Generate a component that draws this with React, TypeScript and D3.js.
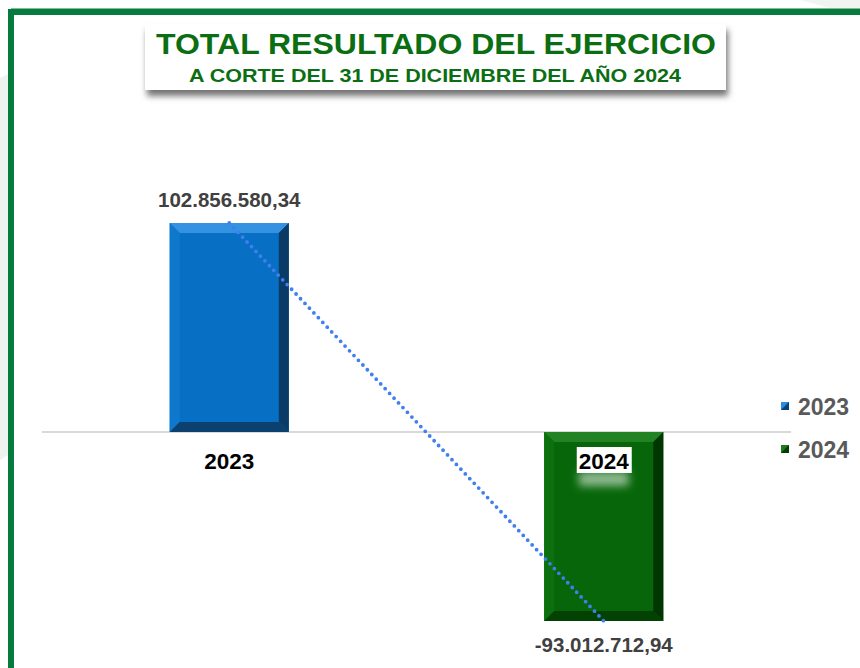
import React from 'react';
import * as d3 from 'd3';

// chart data
const categories = ['2023', '2024'];
const values = [102856580.34, -93012712.94];
const valueLabels = ['102.856.580,34', '-93.012.712,94'];
const legendLabels = ['2023', '2024'];
const title = 'TOTAL RESULTADO DEL EJERCICIO';
const subtitle = 'A CORTE DEL 31 DE DICIEMBRE DEL AÑO 2024';

// bevel colours per series: face, top, left, right, bottom
const palettes = [
  { face: '#0870c4', top: '#3592e2', left: '#0d78cc', right: '#0a3a66', bottom: '#0c416f' },
  { face: '#07660a', top: '#238223', left: '#0b700d', right: '#013501', bottom: '#034203' },
];

const width = 860;
const height = 668;

const App = () => {
  // scales
  const x = d3.scaleBand<string>()
    .domain(categories)
    .range([42, 791])
    .paddingInner(0.682)
    .paddingOuter(0.341);

  const y = d3.scaleLinear()
    .domain([0, values[0]])
    .range([432, 223]);

  const bw = x.bandwidth();
  const bevel = 10;

  const trend = d3.line<number>()
    .x((_, i) => (x(categories[i]) as number) + bw / 2)
    .y((d) => y(d));

  const font = '"Liberation Sans", Arial, sans-serif';

  return (
    <svg width={width} height={height} style={{ position: 'absolute', left: 0, top: 0 }}
      fontFamily={font}>
      <defs>
        <filter id="boxShadow" x="-10%" y="-30%" width="120%" height="180%">
          <feDropShadow dx="2" dy="6" stdDeviation="3" floodColor="#000" floodOpacity="0.55" />
        </filter>
        <filter id="glow" x="-50%" y="-100%" width="200%" height="300%">
          <feGaussianBlur stdDeviation="4" />
        </filter>
      </defs>

      <rect width={width} height={height} fill="#fff" />
      {/* faint background shapes outside frame */}
      <path d="M0,78 L8,74 L8,455 L0,460 Z" fill="#eef3ee" />
      <path d="M800,0 L860,0 L860,8 L830,8 Z" fill="#f1f5f1" />

      {/* green frame */}
      <rect x={11} y={12} width={900} height={700} fill="none" stroke="#077a3e" strokeWidth={6} />
      <line x1={11} y1={8.5} x2={860} y2={8.5} stroke="#7cbf98" strokeWidth={1} />

      {/* title box */}
      <rect x={145} y={24} width={581} height={66} fill="#fff" filter="url(#boxShadow)" />
      <text x={436} y={54} textAnchor="middle" fontSize={29} fontWeight="bold" fill="#0b6e12"
        textLength={560} lengthAdjust="spacingAndGlyphs">{title}</text>
      <text x={435} y={82} textAnchor="middle" fontSize={19} fontWeight="bold" fill="#0b6e12"
        textLength={492} lengthAdjust="spacingAndGlyphs">{subtitle}</text>

      {/* zero line */}
      <line x1={42} x2={791} y1={y(0)} y2={y(0)} stroke="#d9d9d9" strokeWidth={2} />

      {/* bars with bevel */}
      {values.map((v, i) => {
        const p = palettes[i];
        const x0 = x(categories[i]) as number;
        const x1 = x0 + bw;
        const y0 = Math.min(y(v), y(0));
        const y1 = Math.max(y(v), y(0));
        const b = bevel;
        const pts = (a: number[][]) => a.map((q) => q.join(',')).join(' ');
        return (
          <g key={categories[i]}>
            <rect x={x0} y={y0} width={bw} height={y1 - y0} fill={p.face} />
            <polygon points={pts([[x0, y0], [x1, y0], [x1 - b, y0 + b], [x0 + b, y0 + b]])} fill={p.top} />
            <polygon points={pts([[x0, y0], [x0 + b, y0 + b], [x0 + b, y1 - b], [x0, y1]])} fill={p.left} />
            <polygon points={pts([[x1, y0], [x1, y1], [x1 - b, y1 - b], [x1 - b, y0 + b]])} fill={p.right} />
            <polygon points={pts([[x0, y1], [x1, y1], [x1 - b, y1 - b], [x0 + b, y1 - b]])} fill={p.bottom} />
          </g>
        );
      })}

      {/* trend line */}
      <path d={trend(values) as string} fill="none" stroke="#3f7ff0" strokeWidth={3.8}
        strokeDasharray="0 6.5" strokeLinecap="round" />

      {/* value labels */}
      {values.map((v, i) => {
        const cx = (x(categories[i]) as number) + bw / 2;
        const ty = v >= 0 ? y(v) - 16 : y(v) + 31;
        return (
          <text key={'v' + i} x={cx} y={ty} textAnchor="middle" fontSize={20.5} fontWeight="bold"
            fill="#404040">{valueLabels[i]}</text>
        );
      })}

      {/* category labels */}
      {categories.map((c, i) => {
        const cx = (x(c) as number) + bw / 2;
        const onBar = values[i] < 0;
        return (
          <g key={'c' + c}>
            {onBar && (
              <>
                <rect x={cx - 25} y={472} width={50} height={14} fill="#fff" opacity={0.55} filter="url(#glow)" />
                <rect x={cx - 27} y={447} width={55} height={26} fill="#fff" />
              </>
            )}
            <text x={cx} y={468.5} textAnchor="middle" fontSize={22.5} fontWeight="bold" fill="#000">{c}</text>
          </g>
        );
      })}

      {/* legend */}
      {legendLabels.map((l, i) => {
        const p = palettes[i];
        const ly = 402 + i * 43;
        return (
          <g key={'l' + l}>
            <rect x={781} y={ly} width={8} height={8} fill={p.face} />
            <polygon points={`781,${ly} 789,${ly} 781,${ly + 8}`} fill={p.top} opacity={0.8} />
            <polygon points={`789,${ly} 789,${ly + 8} 781,${ly + 8}`} fill={p.right} opacity={0.8} />
            <text x={798} y={ly + 13} fontSize={23} fontWeight="bold" fill="#595959">{l}</text>
          </g>
        );
      })}
    </svg>
  );
};

export default App;
